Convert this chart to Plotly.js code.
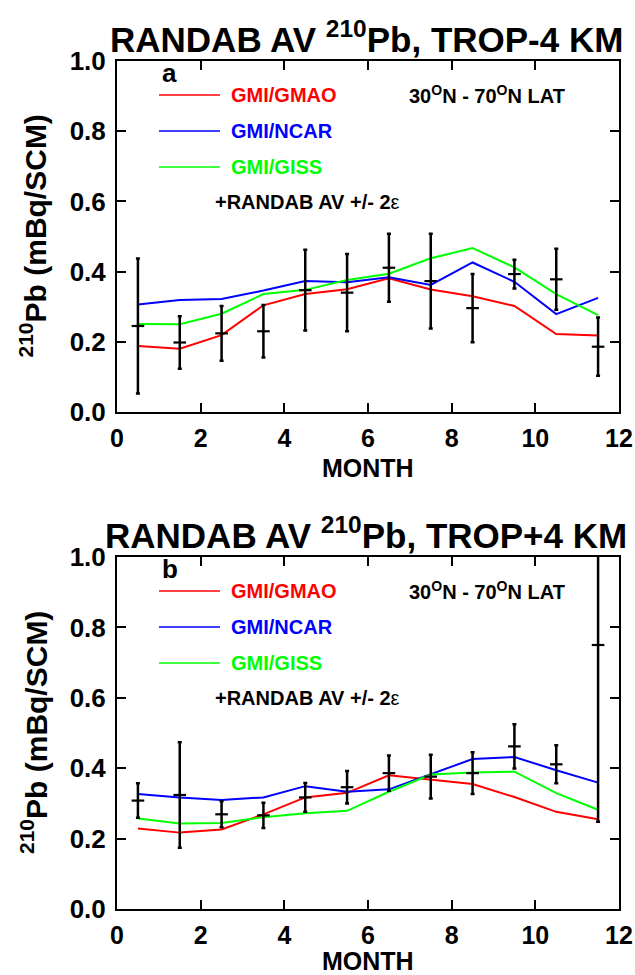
<!DOCTYPE html>
<html>
<head>
<meta charset="utf-8">
<script src="https://cdn.plot.ly/plotly-3.0.1.min.js"></script>
<style>
  html, body { margin: 0; padding: 0; background: #ffffff; }
  #chart { width: 635px; height: 975px; }
</style>
</head>
<body>
<div id="chart"></div>
<script>
// ---------------- data ----------------
const months = [0.5, 1.5, 2.5, 3.5, 4.5, 5.5, 6.5, 7.5, 8.5, 9.5, 10.5, 11.5];
const xTickVals = [0, 2, 4, 6, 8, 10, 12];
const yTickVals = [0.0, 0.2, 0.4, 0.6, 0.8, 1.0];

// Panel a: TROP-4 KM
const gmaoA   = [0.188, 0.180, 0.219, 0.304, 0.336, 0.350, 0.381, 0.349, 0.330, 0.302, 0.222, 0.218];
const ncarA   = [0.306, 0.319, 0.322, 0.346, 0.373, 0.370, 0.384, 0.362, 0.426, 0.371, 0.279, 0.325];
const gissA   = [0.251, 0.250, 0.280, 0.336, 0.348, 0.376, 0.394, 0.438, 0.467, 0.412, 0.336, 0.276];
const randabA = [0.245, 0.198, 0.224, 0.230, 0.347, 0.340, 0.411, 0.373, 0.296, 0.393, 0.378, 0.186];
const errA    = [0.192, 0.075, 0.078, 0.075, 0.115, 0.110, 0.097, 0.135, 0.097, 0.041, 0.087, 0.083];

// Panel b: TROP+4 KM
const gmaoB   = [0.229, 0.217, 0.226, 0.269, 0.317, 0.330, 0.380, 0.368, 0.355, 0.318, 0.276, 0.255];
const ncarB   = [0.327, 0.317, 0.310, 0.317, 0.349, 0.333, 0.340, 0.383, 0.426, 0.432, 0.394, 0.359];
const gissB   = [0.257, 0.243, 0.244, 0.261, 0.272, 0.279, 0.333, 0.382, 0.388, 0.390, 0.329, 0.282];
const randabB = [0.308, 0.324, 0.269, 0.266, 0.317, 0.346, 0.386, 0.376, 0.386, 0.462, 0.411, 0.750];
const errB    = [0.049, 0.150, 0.037, 0.036, 0.041, 0.046, 0.050, 0.062, 0.059, 0.063, 0.054, 0.502];

const seriesNames = ["GMI/GMAO", "GMI/NCAR", "GMI/GISS"];
const seriesColors = ["#ff0000", "#0000ff", "#00ff00"];
const panelTitles = ["RANDAB AV <sup>210</sup>Pb, TROP-4 KM", "RANDAB AV <sup>210</sup>Pb, TROP+4 KM"];
const panelLetters = ["a", "b"];
const latText = "30<sup>O</sup>N - 70<sup>O</sup>N LAT";
const obsText = "+RANDAB AV +/- 2<span style='font-weight:normal'>ε</span>";
const yTitle = "<sup>210</sup>Pb (mBq/SCM)";
const xTitle = "MONTH";

// ---------------- layout geometry (pixels) ----------------
const W = 635, H = 975;
const FONT = "Liberation Sans, Arial, Helvetica, sans-serif";
const X0 = 117, X1 = 619;
const panels = [{top: 61, bot: 412, xt: 468}, {top: 557, bot: 909, xt: 961}];
const px = v => v / W;
const py = v => 1 - v / H;

const panelData = [
  {models: [gmaoA, ncarA, gissA], obs: randabA, err: errA},
  {models: [gmaoB, ncarB, gissB], obs: randabB, err: errB}
];

const traces = [];
panelData.forEach((pd, i) => {
  const xa = i === 0 ? "x" : "x2";
  const ya = i === 0 ? "y" : "y2";
  pd.models.forEach((vals, k) => {
    traces.push({
      type: "scatter", mode: "lines", x: months, y: vals,
      xaxis: xa, yaxis: ya, name: seriesNames[k], showlegend: false,
      line: {color: seriesColors[k], width: 2}
    });
  });
  traces.push({
    type: "scatter", mode: "markers", x: months, y: pd.obs,
    xaxis: xa, yaxis: ya, name: "RANDAB AV", showlegend: false,
    marker: {symbol: "line-ew", size: 9, color: "#000", line: {color: "#000", width: 2.2}},
    error_y: {type: "data", array: pd.err, symmetric: true, color: "#000", thickness: 2.5, width: 2}
  });
});

function xAxis(anchor) {
  return {
    domain: [px(X0), px(X1)], anchor: anchor, range: [0, 12],
    tickmode: "array", tickvals: xTickVals, ticktext: xTickVals.map(String),
    ticks: "inside", ticklen: 9, tickwidth: 2, tickcolor: "#000",
    showline: true, linewidth: 2, linecolor: "#000", mirror: "ticks",
    showgrid: false, zeroline: false,
    tickfont: {family: FONT, size: 25, color: "#000", weight: "bold"},
    ticklabelstandoff: 3
  };
}
function yAxis(anchor, i) {
  const p = panels[i];
  return {
    domain: [py(p.bot), py(p.top)], anchor: anchor, range: [0, 1],
    tickmode: "array", tickvals: yTickVals, ticktext: yTickVals.map(v => v.toFixed(1)),
    ticks: "inside", ticklen: 9, tickwidth: 2, tickcolor: "#000",
    showline: true, linewidth: 2, linecolor: "#000", mirror: "ticks",
    showgrid: false, zeroline: false,
    tickfont: {family: FONT, size: 26, color: "#000", weight: "bold"},
    ticklabelstandoff: 4
  };
}

const annotations = [];
const shapes = [];
panels.forEach((p, i) => {
  const T = p.top;
  // panel title
  annotations.push({xref: "paper", yref: "paper", x: px(366), y: py(T - 24), xanchor: "center", yanchor: "middle",
    text: panelTitles[i], showarrow: false, font: {family: FONT, size: 35, color: "#000", weight: "bold"}});
  // letter
  annotations.push({xref: "paper", yref: "paper", x: px(160), y: py(T + 12), xanchor: "left", yanchor: "middle",
    text: panelLetters[i], showarrow: false, font: {family: FONT, size: 26, color: "#000", weight: "bold"}});
  // legend entries
  seriesNames.forEach((nm, k) => {
    const yy = T + 34 + k * 36;
    shapes.push({type: "line", xref: "paper", yref: "paper", x0: px(159), x1: px(220), y0: py(yy), y1: py(yy),
      line: {color: seriesColors[k], width: 1.5}});
    annotations.push({xref: "paper", yref: "paper", x: px(229), y: py(yy), xanchor: "left", yanchor: "middle",
      text: nm, showarrow: false, font: {family: FONT, size: 20, color: seriesColors[k], weight: "bold"}});
  });
  annotations.push({xref: "paper", yref: "paper", x: px(407), y: py(T + 33), xanchor: "left", yanchor: "middle",
    text: latText, showarrow: false, font: {family: FONT, size: 20, color: "#000", weight: "bold"}});
  annotations.push({xref: "paper", yref: "paper", x: px(213), y: py(T + 141), xanchor: "left", yanchor: "middle",
    text: obsText, showarrow: false, font: {family: FONT, size: 20, color: "#000", weight: "bold"}});
  // y title
  annotations.push({xref: "paper", yref: "paper", x: px(34), y: py((p.top + p.bot) / 2), xanchor: "center", yanchor: "middle",
    text: yTitle, textangle: -90, showarrow: false, font: {family: FONT, size: 30, color: "#000", weight: "bold"}});
  // x title
  annotations.push({xref: "paper", yref: "paper", x: px((X0 + X1) / 2), y: py(p.xt), xanchor: "center", yanchor: "middle",
    text: xTitle, showarrow: false, font: {family: FONT, size: 25, color: "#000", weight: "bold"}});
});

const layout = {
  width: W, height: H,
  margin: {l: 0, r: 0, t: 0, b: 0, pad: 0},
  paper_bgcolor: "#fff", plot_bgcolor: "#fff",
  showlegend: false,
  xaxis: xAxis("y"), yaxis: yAxis("x", 0),
  xaxis2: xAxis("y2"), yaxis2: yAxis("x2", 1),
  annotations: annotations, shapes: shapes
};

Plotly.newPlot("chart", traces, layout, {displayModeBar: false, staticPlot: true});
</script>
</body>
</html>
